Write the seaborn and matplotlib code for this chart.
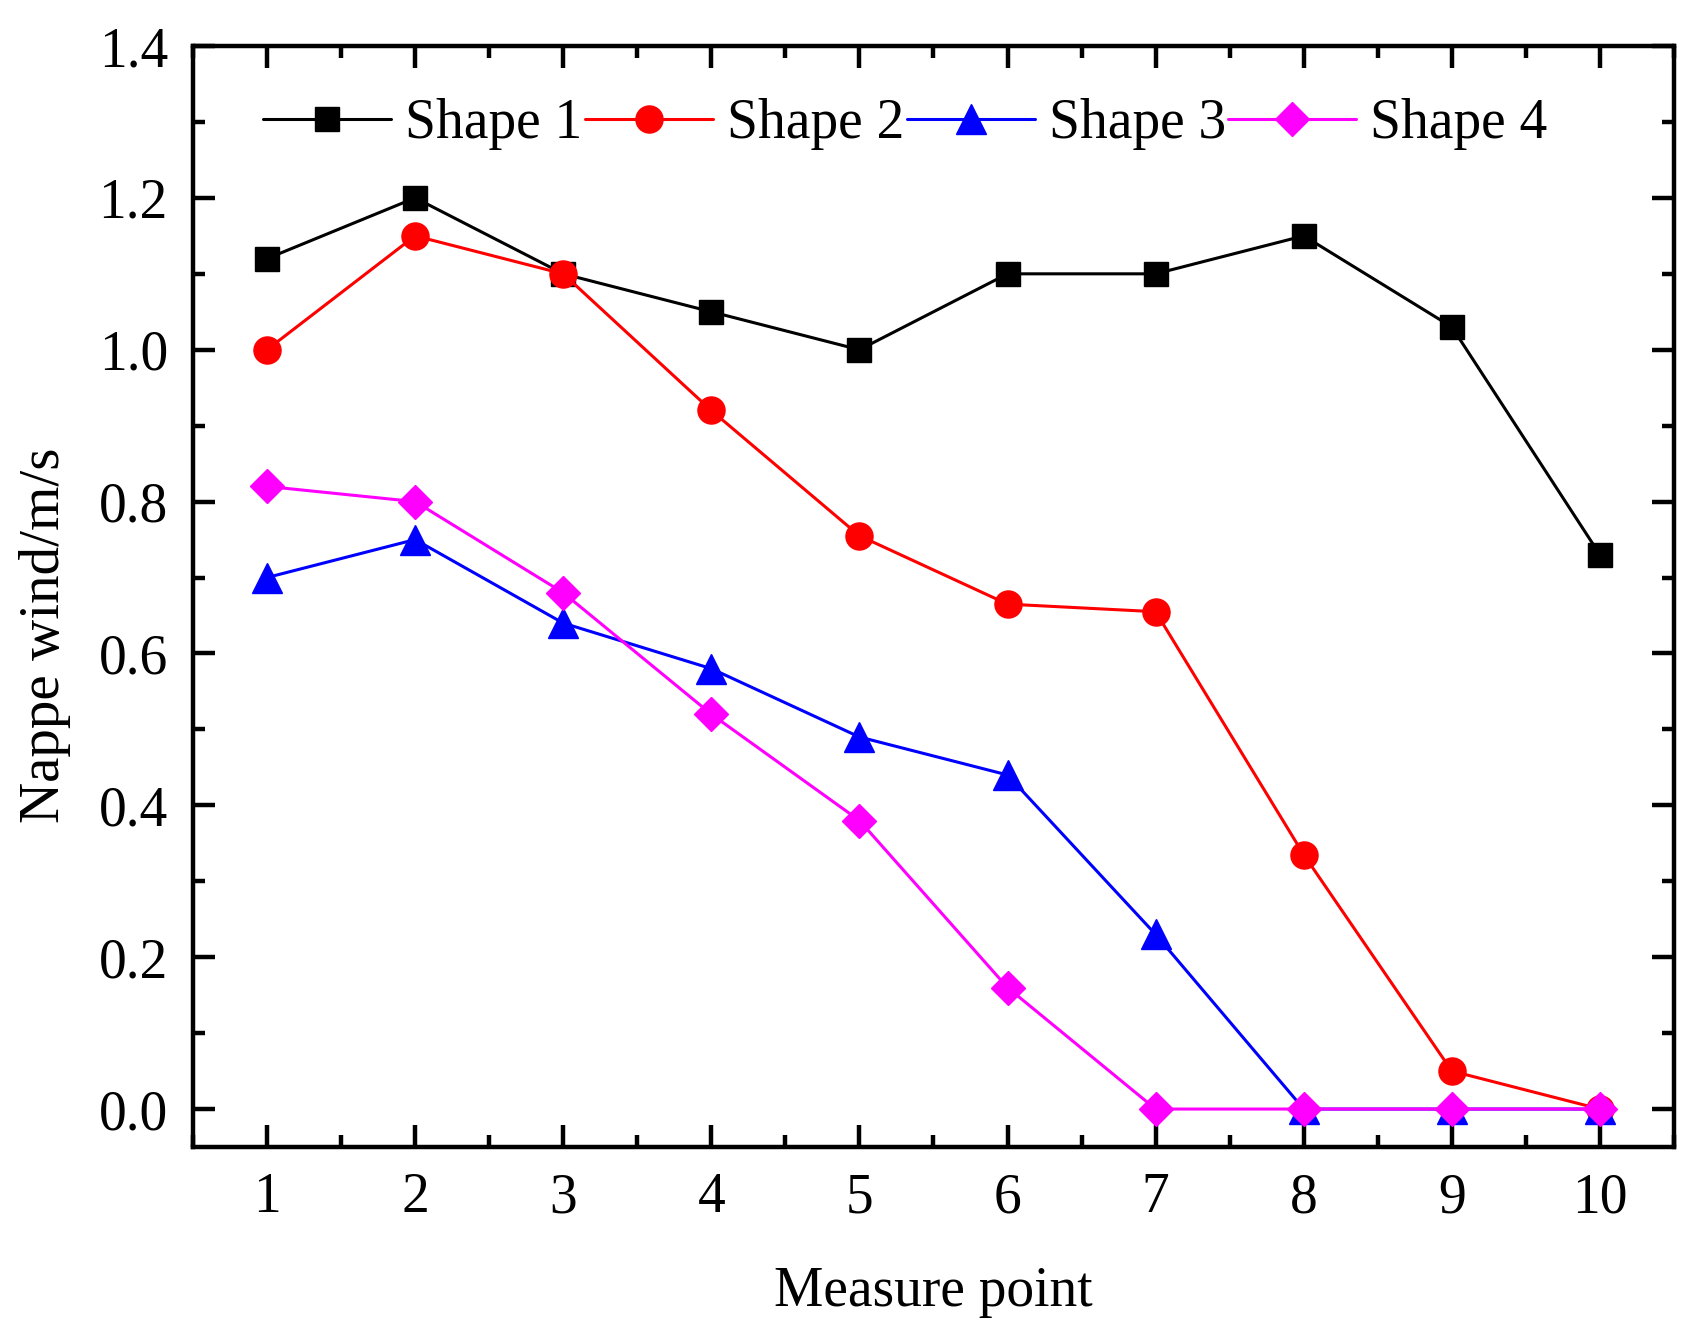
import matplotlib
matplotlib.use("Agg")
import matplotlib.pyplot as plt
import seaborn as sns
from matplotlib.ticker import MultipleLocator, FormatStrFormatter

# data
points = [1, 2, 3, 4, 5, 6, 7, 8, 9, 10]
shape1 = [1.12, 1.20, 1.10, 1.05, 1.00, 1.10, 1.10, 1.15, 1.03, 0.73]
shape2 = [1.00, 1.15, 1.10, 0.92, 0.755, 0.665, 0.655, 0.335, 0.05, 0.0]
shape3 = [0.70, 0.75, 0.64, 0.58, 0.49, 0.44, 0.23, 0.0, 0.0, 0.0]
shape4 = [0.82, 0.80, 0.68, 0.52, 0.38, 0.16, 0.0, 0.0, 0.0, 0.0]
names = ["Shape 1", "Shape 2", "Shape 3", "Shape 4"]

sns.set_style("ticks")
plt.rcParams['font.family'] = ['Liberation Serif', 'DejaVu Serif']
plt.rcParams['text.color'] = 'black'
plt.rcParams['axes.labelcolor'] = 'black'
plt.rcParams['xtick.color'] = 'black'
plt.rcParams['ytick.color'] = 'black'

fig, ax = plt.subplots(figsize=(17, 13.42), dpi=100)
fig.subplots_adjust(left=0.1135, right=0.9847, top=0.9657, bottom=0.1453)

styles = [
    ("#000000", "s", 17),
    ("#FF0000", "o", 19.5),
    ("#0000FF", "^", 22),
    ("#FF00FF", "D", 17),
]
series = [shape1, shape2, shape3, shape4]

for vals, name, (col, mk, ms) in zip(series, names, styles):
    sns.lineplot(x=points, y=vals, ax=ax, color=col, marker=mk, markersize=ms,
                 markeredgecolor=col, markeredgewidth=1, linewidth=2.2,
                 label=name, clip_on=False)

ax.set_xlim(0.5, 10.5)
ax.set_ylim(-0.05, 1.4)
ax.xaxis.set_major_locator(MultipleLocator(1))
ax.xaxis.set_minor_locator(MultipleLocator(0.5))
ax.yaxis.set_major_locator(MultipleLocator(0.2))
ax.yaxis.set_minor_locator(MultipleLocator(0.1))
ax.yaxis.set_major_formatter(FormatStrFormatter('%.1f'))

for s in ax.spines.values():
    s.set_linewidth(3.2)
    s.set_color('black')

ax.tick_params(which='major', direction='in', top=True, right=True,
               length=16, width=3.2, pad=18, labelsize=40, colors='black')
ax.tick_params(which='minor', direction='in', top=True, right=True,
               length=8.5, width=3.2, colors='black')

ax.set_xlabel("Measure point", fontsize=40, labelpad=30)
ax.set_ylabel("Nappe wind/m/s", fontsize=41)
ax.yaxis.set_label_coords(-0.0825, 0.465)

ax.legend(loc='center', bbox_to_anchor=(0.481, 0.929), ncol=4, frameon=False,
          fontsize=40, handlelength=2.3, handletextpad=0.25, columnspacing=0.05,
          borderaxespad=0)

fig.savefig("out.png", dpi=100)
